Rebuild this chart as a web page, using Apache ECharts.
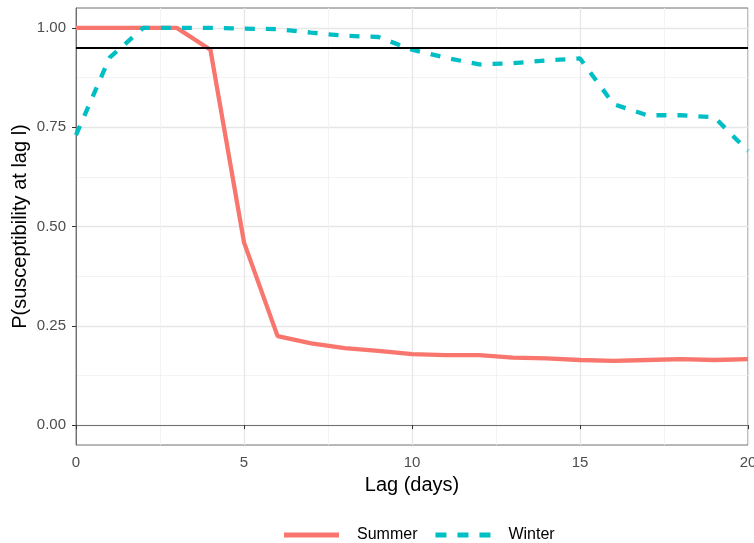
<!DOCTYPE html>
<html>
<head>
<meta charset="utf-8">
<title>P(susceptibility at lag l)</title>
<script src="https://cdn.jsdelivr.net/npm/echarts@6/dist/echarts.min.js"></script>
<style>
  html, body { margin: 0; padding: 0; background: #fff; }
  #main { width: 754px; height: 543px; }
</style>
</head>
<body>
<div id="main"></div>
<script type="text/javascript">
// lag in days
var lags = [0, 1, 2, 3, 4, 5, 6, 7, 8, 9, 10, 11, 12, 13, 14, 15, 16, 17, 18, 19, 20];
var summer = [1.0, 1.0, 1.0, 1.0, 0.945, 0.46, 0.224, 0.206, 0.194, 0.187, 0.179, 0.176, 0.176, 0.17, 0.168, 0.164, 0.162, 0.164, 0.166, 0.164, 0.166];
var winter = [0.73, 0.925, 1.0, 1.0, 1.0, 0.998, 0.997, 0.988, 0.98, 0.977, 0.945, 0.925, 0.908, 0.911, 0.918, 0.923, 0.808, 0.78, 0.78, 0.775, 0.69];
var threshold = 0.95;
var yTicks = [0, 0.25, 0.5, 0.75, 1];
var yMinor = [0.125, 0.375, 0.625, 0.875];

function pairs(ys) {
  return lags.map(function (x, i) { return [x, ys[i]]; });
}

var font = 'Liberation Sans, Arial, sans-serif';
var chart = echarts.init(document.getElementById('main'));

// legend keys drawn like ggplot: solid bar and three dashes
var solidKey = 'path://M0,0H55V5H0Z';
var dashKey = 'path://M0,0H11V5H0Z M22,0H33V5H22Z M44,0H55V5H44Z';

var option = {
  animation: false,
  textStyle: { fontFamily: font },
  grid: {
    left: 76, right: 6, top: 8, bottom: 98,
    outerBoundsMode: 'none',
    containLabel: false,
    show: true, borderColor: '#707070', borderWidth: 1
  },
  legend: {
    top: 527,
    left: 284,
    padding: 0,
    itemWidth: 57,
    itemHeight: 5,
    itemGap: 18,
    itemStyle: { borderWidth: 0 },
    textStyle: { fontSize: 16, color: '#000', fontFamily: font, padding: [0, 0, 0, 12] },
    data: [
      { name: 'Summer', icon: solidKey },
      { name: 'Winter', icon: dashKey }
    ]
  },
  xAxis: {
    type: 'value',
    min: 0, max: 20, interval: 5,
    name: 'Lag (days)',
    nameLocation: 'middle',
    nameGap: 30,
    nameMoveOverlap: false,
    nameTextStyle: { fontSize: 20, color: '#000' },
    axisLine: { show: true, lineStyle: { color: '#707070' } },
    axisTick: { show: true, length: 4, lineStyle: { color: '#333' } },
    axisLabel: { fontSize: 15, color: '#4d4d4d', margin: 10 },
    splitLine: { show: true, lineStyle: { color: '#e6e6e6', width: 1.3 } },
    minorTick: { show: false, splitNumber: 2 },
    minorSplitLine: { show: true, lineStyle: { color: '#f0f0f0', width: 0.8 } }
  },
  yAxis: [{
    type: 'value',
    min: -0.05, max: 1.05,
    name: 'P(susceptibility at lag l)',
    nameLocation: 'middle',
    nameRotate: 90,
    nameGap: 46,
    nameMoveOverlap: false,
    nameTextStyle: { fontSize: 20, color: '#000' },
    axisLine: { show: true, lineStyle: { color: '#707070' } },
    axisTick: { show: true, length: 4, customValues: yTicks, lineStyle: { color: '#333' } },
    axisLabel: {
      fontSize: 15, color: '#4d4d4d', margin: 10,
      customValues: yTicks,
      formatter: function (v) { return v.toFixed(2); }
    },
    splitLine: { show: true, lineStyle: { color: '#e6e6e6', width: 1.3 } }
  }, {
    type: 'value',
    min: -0.05, max: 1.05,
    position: 'left',
    axisLine: { show: false },
    axisTick: { show: false, customValues: yMinor },
    axisLabel: { show: false, customValues: yMinor },
    splitLine: { show: true, lineStyle: { color: '#f0f0f0', width: 0.8 } }
  }],
  series: [{
    name: 'Summer',
    type: 'line',
    data: pairs(summer),
    symbol: 'none',
    z: 3,
    lineStyle: { color: '#F8766D', width: 4.3 },
    itemStyle: { color: '#F8766D' },
    markLine: {
      silent: true,
      symbol: ['none', 'none'],
      label: { show: false },
      lineStyle: { color: '#000', width: 2, type: 'solid' },
      data: [{ yAxis: threshold }]
    }
  }, {
    name: 'Winter',
    type: 'line',
    data: pairs(winter),
    symbol: 'none',
    z: 4,
    lineStyle: { color: '#00BFC4', width: 4.3, type: [10, 11] },
    itemStyle: { color: '#00BFC4' }
  }]
};

chart.setOption(option);
</script>
</body>
</html>
